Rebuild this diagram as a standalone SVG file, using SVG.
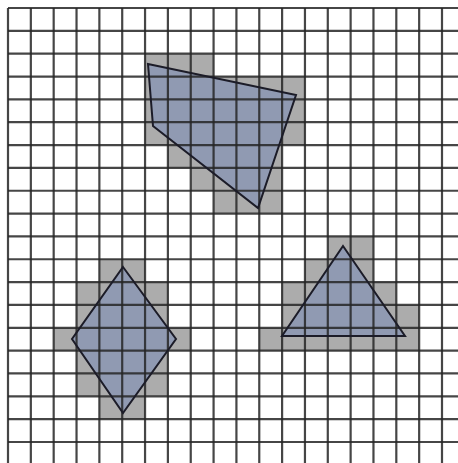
<svg xmlns="http://www.w3.org/2000/svg" width="458" height="463" viewBox="0 0 458 463">
<style>
.cells{fill:#acacac}
.shape{fill:#8b97b3;fill-opacity:0.85;stroke:none}
.outline{fill:none;stroke:#1c1c28;stroke-width:2;stroke-linejoin:miter}
.grid{stroke:#262626;stroke-width:2.2;stroke-opacity:0.85;fill:none}
</style>
<rect width="458" height="463" fill="#ffffff"/>
<g id="cells">
<path class="cells" d="M145.05,53.68 H213.58 V76.53 H304.95 V145.05 H282.1 V213.58 H213.58 V190.74 H190.74 V167.89 H167.89 V145.05 H145.05 Z"/>
<path class="cells" d="M99.37,259.26 H145.05 V282.1 H167.89 V327.79 H190.74 V350.63 H167.89 V396.31 H145.05 V419.16 H99.37 V396.31 H76.53 V350.63 H53.68 V327.79 H76.53 V282.1 H99.37 Z"/>
<path class="cells" d="M327.79,236.42 H373.47 V282.1 H396.31 V304.95 H419.16 V350.63 H259.26 V327.79 H282.1 V282.1 H304.95 V259.26 H327.79 Z"/>
</g>
<g id="fills">
<polygon class="shape" points="148,64 296,95 258,208 153,126"/>
<polygon class="shape" points="123,267 176,339 123,413 72,339"/>
<polygon class="shape" points="343,246 405,336 282,336"/>
</g>
<g id="grid">
<path class="grid" d="M8,8V463 M30.84,8V463 M53.68,8V463 M76.53,8V463 M99.37,8V463 M122.21,8V463 M145.05,8V463 M167.89,8V463 M190.74,8V463 M213.58,8V463 M236.42,8V463 M259.26,8V463 M282.1,8V463 M304.95,8V463 M327.79,8V463 M350.63,8V463 M373.47,8V463 M396.31,8V463 M419.16,8V463 M442,8V463"/>
<path class="grid" d="M8,8H458 M8,30.84H458 M8,53.68H458 M8,76.53H458 M8,99.37H458 M8,122.21H458 M8,145.05H458 M8,167.89H458 M8,190.74H458 M8,213.58H458 M8,236.42H458 M8,259.26H458 M8,282.1H458 M8,304.95H458 M8,327.79H458 M8,350.63H458 M8,373.47H458 M8,396.31H458 M8,419.16H458 M8,442H458"/>
</g>
<g id="quadrilateral"><polygon class="outline" points="148,64 296,95 258,208 153,126"/></g>
<g id="rhombus"><polygon class="outline" points="123,267 176,339 123,413 72,339"/></g>
<g id="triangle"><polygon class="outline" points="343,246 405,336 282,336"/></g>
</svg>
